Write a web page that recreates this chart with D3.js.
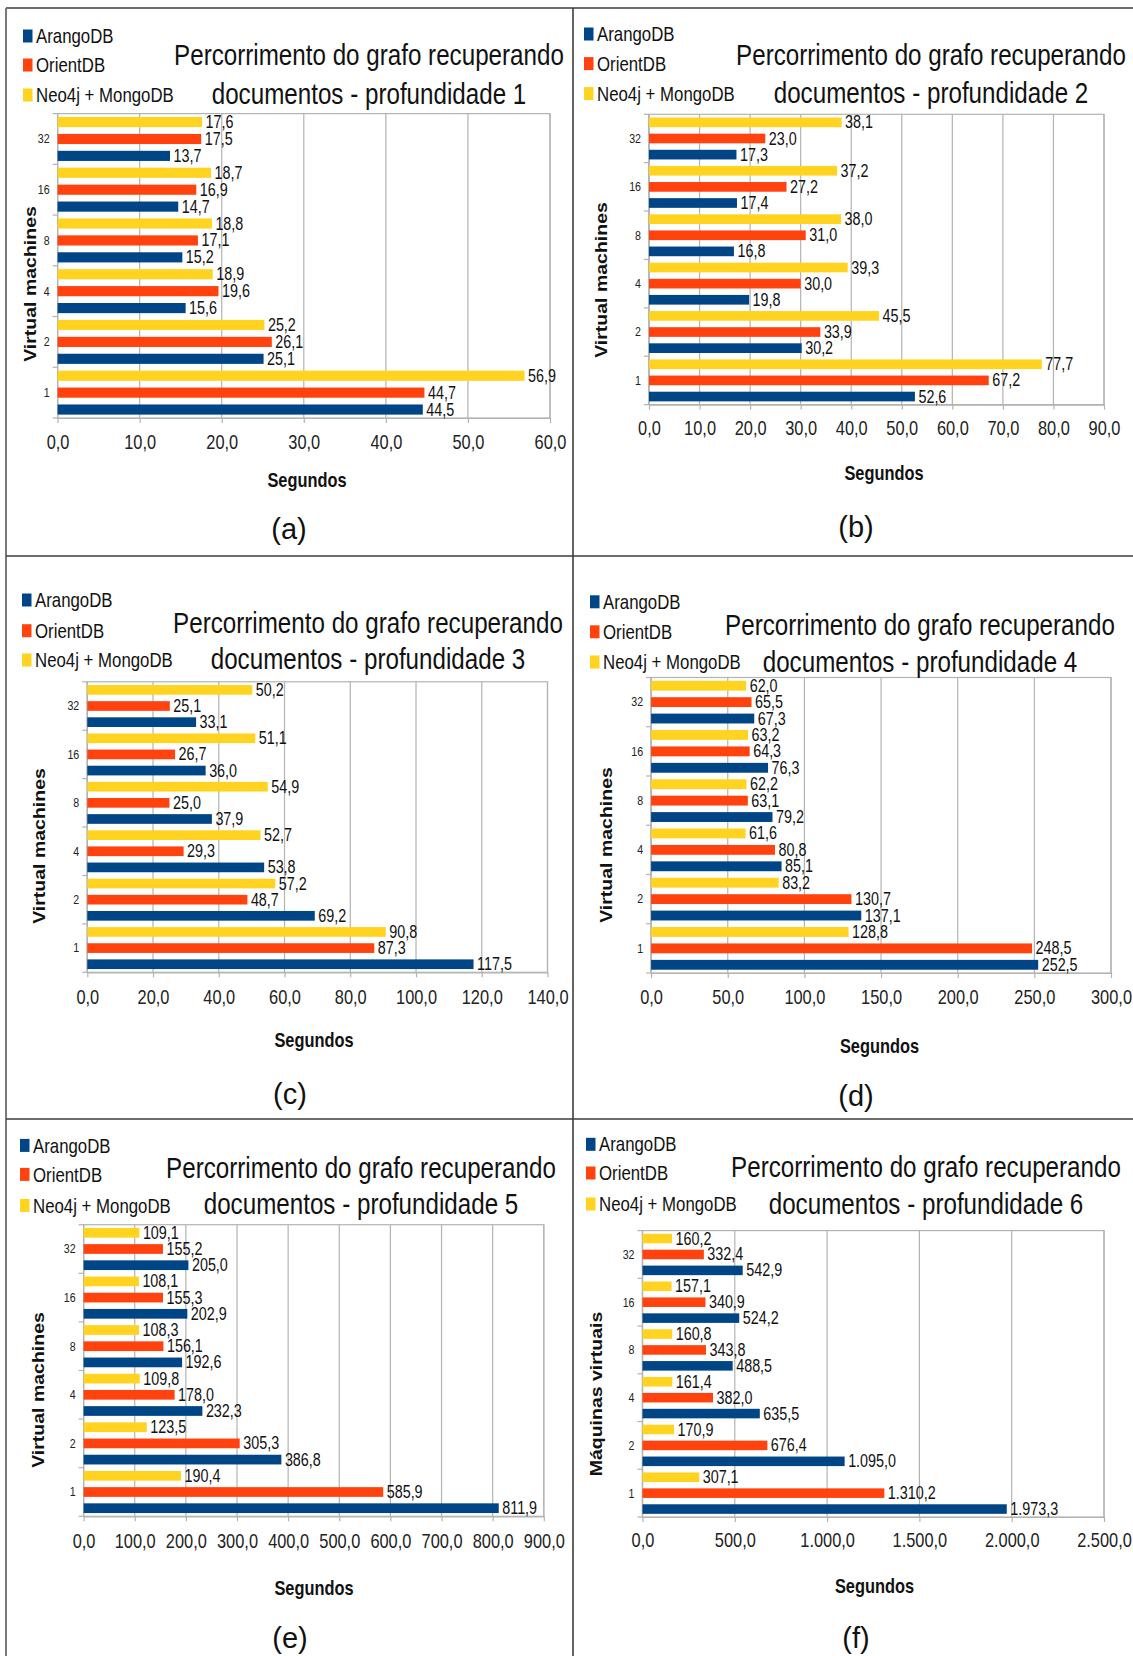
<!DOCTYPE html>
<html>
<head>
<meta charset="utf-8">
<script src="https://cdn.jsdelivr.net/npm/d3@7"></script>
<style>
  html, body { margin: 0; padding: 0; background: #fff; }
  svg { display: block; }
  text { font-family: "Liberation Sans", Arial, sans-serif; }
</style>
</head>
<body>
<svg id="fig" width="1133" height="1656"></svg>
<script>
// ---- data -------------------------------------------------------------
const categories = ["1", "2", "4", "8", "16", "32"];
const seriesNames = ["ArangoDB", "OrientDB", "Neo4j + MongoDB"];
const seriesColors = ["#004586", "#ff420e", "#ffd320"];

// depth 1
const arango1 = [44.5, 25.1, 15.6, 15.2, 14.7, 13.7];
const orient1 = [44.7, 26.1, 19.6, 17.1, 16.9, 17.5];
const neoMongo1 = [56.9, 25.2, 18.9, 18.8, 18.7, 17.6];
const ticks1 = [0, 10, 20, 30, 40, 50, 60];
// depth 2
const arango2 = [52.6, 30.2, 19.8, 16.8, 17.4, 17.3];
const orient2 = [67.2, 33.9, 30.0, 31.0, 27.2, 23.0];
const neoMongo2 = [77.7, 45.5, 39.3, 38.0, 37.2, 38.1];
const ticks2 = [0, 10, 20, 30, 40, 50, 60, 70, 80, 90];
// depth 3
const arango3 = [117.5, 69.2, 53.8, 37.9, 36.0, 33.1];
const orient3 = [87.3, 48.7, 29.3, 25.0, 26.7, 25.1];
const neoMongo3 = [90.8, 57.2, 52.7, 54.9, 51.1, 50.2];
const ticks3 = [0, 20, 40, 60, 80, 100, 120, 140];
// depth 4
const arango4 = [252.5, 137.1, 85.1, 79.2, 76.3, 67.3];
const orient4 = [248.5, 130.7, 80.8, 63.1, 64.3, 65.5];
const neoMongo4 = [128.8, 83.2, 61.6, 62.2, 63.2, 62.0];
const ticks4 = [0, 50, 100, 150, 200, 250, 300];
// depth 5
const arango5 = [811.9, 386.8, 232.3, 192.6, 202.9, 205.0];
const orient5 = [585.9, 305.3, 178.0, 156.1, 155.3, 155.2];
const neoMongo5 = [190.4, 123.5, 109.8, 108.3, 108.1, 109.1];
const ticks5 = [0, 100, 200, 300, 400, 500, 600, 700, 800, 900];
// depth 6
const arango6 = [1973.3, 1095.0, 635.5, 488.5, 524.2, 542.9];
const orient6 = [1310.2, 676.4, 382.0, 343.8, 340.9, 332.4];
const neoMongo6 = [307.1, 170.9, 161.4, 160.8, 157.1, 160.2];
const ticks6 = [0, 500, 1000, 1500, 2000, 2500];

const titleLine1 = "Percorrimento do grafo recuperando";
const depthTitles = ["documentos - profundidade 1", "documentos - profundidade 2",
  "documentos - profundidade 3", "documentos - profundidade 4",
  "documentos - profundidade 5", "documentos - profundidade 6"];
const yTitles = ["Virtual machines", "Virtual machines", "Virtual machines",
  "Virtual machines", "Virtual machines", "Máquinas virtuais"];
const xTitle = "Segundos";
const captions = ["(a)", "(b)", "(c)", "(d)", "(e)", "(f)"];

// ---- layout of the six panels ------------------------------------------
const layouts = [
  { l: 57.6, r: 550, t: 113.6, b: 418, tickY: 442, segX: 307, segY: 480, capX: 289, capY: 529,
    titleX: 369, t1: 55, t2: 94, legX: 23, legY: [36, 65, 95], yLabX: 31, yLabY: 284 },
  { l: 649, r: 1104, t: 114.3, b: 404.6, tickY: 427.5, segX: 884, segY: 473, capX: 856, capY: 527,
    titleX: 931, t1: 55.4, t2: 93, legX: 584, legY: [34, 63.6, 93.6], yLabX: 602, yLabY: 280 },
  { l: 87.3, r: 547.5, t: 681.8, b: 972.3, tickY: 996.4, segX: 314, segY: 1040, capX: 290, capY: 1094,
    titleX: 368, t1: 623.5, t2: 659.5, legX: 22, legY: [600, 630.7, 660], yLabX: 40, yLabY: 846 },
  { l: 651.1, r: 1111, t: 677.5, b: 973, tickY: 996.4, segX: 879.5, segY: 1046, capX: 856, capY: 1095.5,
    titleX: 920, t1: 625.3, t2: 662.4, legX: 590, legY: [601.8, 631.8, 662], yLabX: 607, yLabY: 845 },
  { l: 83.6, r: 543.8, t: 1224.7, b: 1516.3, tickY: 1541, segX: 314, segY: 1588, capX: 290, capY: 1638,
    titleX: 361, t1: 1168.5, t2: 1204, legX: 20, legY: [1145.4, 1174.4, 1205.4], yLabX: 38.5, yLabY: 1390 },
  { l: 642.5, r: 1104, t: 1230.6, b: 1517, tickY: 1540, segX: 874.5, segY: 1586, capX: 856, capY: 1638,
    titleX: 926, t1: 1167, t2: 1204, legX: 586, legY: [1144.3, 1173, 1204], yLabX: 597, yLabY: 1394 }
];

const panelData = [
  [arango1, orient1, neoMongo1, ticks1],
  [arango2, orient2, neoMongo2, ticks2],
  [arango3, orient3, neoMongo3, ticks3],
  [arango4, orient4, neoMongo4, ticks4],
  [arango5, orient5, neoMongo5, ticks5],
  [arango6, orient6, neoMongo6, ticks6]
];

const ptBR = d3.formatLocale({ decimal: ",", thousands: ".", grouping: [3], currency: ["", ""] });
const fmt = ptBR.format(",.1f");

// chart texts are set in a condensed face: horizontal squeeze of the regular face
const NARROW = 0.82;
const place = (x, y) => `translate(${x},${y}) scale(${NARROW},1)`;

const svg = d3.select("#fig");

// ---- panel frame lines ---------------------------------------------------
const frame = svg.append("g").attr("stroke", "#3d3d3d").attr("stroke-width", 1.6).attr("fill", "none");
frame.append("line").attr("x1", 6).attr("x2", 1133).attr("y1", 8).attr("y2", 8);
frame.append("line").attr("x1", 6).attr("x2", 6).attr("y1", 8).attr("y2", 1656).attr("stroke", "#7a7a7a").attr("stroke-width", 2);
frame.append("line").attr("x1", 573).attr("x2", 573).attr("y1", 8).attr("y2", 1656);
frame.append("line").attr("x1", 6).attr("x2", 1133).attr("y1", 556).attr("y2", 556);
frame.append("line").attr("x1", 6).attr("x2", 1133).attr("y1", 1119).attr("y2", 1119);

// ---- one chart per depth --------------------------------------------------
layouts.forEach((L, i) => {
  const [ar, or, nm, ticks] = panelData[i];
  const rows = categories.map((c, k) => ({
    cat: c,
    vals: [
      { s: seriesNames[2], v: nm[k], c: seriesColors[2] },
      { s: seriesNames[1], v: or[k], c: seriesColors[1] },
      { s: seriesNames[0], v: ar[k], c: seriesColors[0] }
    ]
  }));

  const g = svg.append("g");
  const x = d3.scaleLinear().domain([0, d3.max(ticks)]).range([L.l, L.r]);
  const y = d3.scaleBand().domain(categories.slice().reverse()).range([L.t, L.b]).padding(0);
  const yIn = d3.scaleBand().domain([seriesNames[2], seriesNames[1], seriesNames[0]])
    .range([0, y.bandwidth()]).paddingInner(0.4).paddingOuter(0.2);

  // plot wall border
  g.append("rect").attr("x", L.l).attr("y", L.t).attr("width", L.r - L.l).attr("height", L.b - L.t)
    .attr("fill", "none").attr("stroke", "#b3b3b3").attr("stroke-width", 1.2);

  // vertical grid lines
  g.append("g").selectAll("line").data(ticks).join("line")
    .attr("x1", d => x(d)).attr("x2", d => x(d)).attr("y1", L.t).attr("y2", L.b)
    .attr("stroke", "#b3b3b3").attr("stroke-width", 1.2);

  // x axis: ticks and labels
  const xAxis = d3.axisBottom(x).tickValues(ticks).tickSize(5).tickSizeOuter(0).tickFormat(fmt);
  const xa = g.append("g").attr("transform", `translate(0,${L.b})`).call(xAxis);
  xa.select(".domain").attr("stroke", "#b3b3b3").attr("stroke-width", 1.2);
  xa.selectAll(".tick line").attr("stroke", "#b3b3b3").attr("stroke-width", 1.2);
  xa.selectAll(".tick text").attr("y", null).attr("dy", null)
    .attr("transform", place(0, L.tickY - L.b))
    .attr("dominant-baseline", "central")
    .attr("font-family", "Liberation Sans, Arial, sans-serif")
    .attr("font-size", 20).attr("fill", "#222");

  // y axis: category labels and group separators
  const sepYs = d3.range(categories.length + 1).map(k => L.t + k * y.step());
  g.append("g").selectAll("line").data(sepYs).join("line")
    .attr("x1", L.l - 5).attr("x2", L.l).attr("y1", d => d).attr("y2", d => d)
    .attr("stroke", "#b3b3b3").attr("stroke-width", 1.2);
  g.append("line").attr("x1", L.l).attr("x2", L.l).attr("y1", L.t).attr("y2", L.b)
    .attr("stroke", "#b3b3b3").attr("stroke-width", 1.2);
  g.append("g").selectAll("text").data(categories).join("text")
    .attr("transform", d => place(L.l - 8, y(d) + y.bandwidth() / 2))
    .attr("text-anchor", "end").attr("dominant-baseline", "central")
    .attr("font-size", 13).attr("fill", "#222").text(d => d);

  // bars and value labels
  const grp = g.append("g").selectAll("g").data(rows).join("g")
    .attr("transform", d => `translate(0,${y(d.cat)})`);
  grp.selectAll("rect").data(d => d.vals).join("rect")
    .attr("x", x(0)).attr("y", d => yIn(d.s))
    .attr("width", d => x(d.v) - x(0)).attr("height", yIn.bandwidth())
    .attr("fill", d => d.c);
  grp.selectAll("text").data(d => d.vals).join("text")
    .attr("transform", d => place(x(d.v) + 3.5, yIn(d.s) + yIn.bandwidth() / 2))
    .attr("dominant-baseline", "central").attr("font-size", 17.5).attr("fill", "#111")
    .text(d => fmt(d.v));

  // legend
  const leg = g.append("g").selectAll("g").data([0, 1, 2]).join("g")
    .attr("transform", k => `translate(${L.legX},${L.legY[k]})`);
  leg.append("rect").attr("x", 0).attr("y", -6.5).attr("width", 9.5).attr("height", 13)
    .attr("fill", k => seriesColors[k]);
  leg.append("text").attr("transform", place(13, 0)).attr("dominant-baseline", "central")
    .attr("font-size", 20.5).attr("fill", "#111").text(k => seriesNames[k]);

  // chart title
  g.append("text").attr("transform", place(L.titleX, L.t1)).attr("text-anchor", "middle")
    .attr("dominant-baseline", "central").attr("font-size", 29.5).attr("fill", "#111").text(titleLine1);
  g.append("text").attr("transform", place(L.titleX, L.t2)).attr("text-anchor", "middle")
    .attr("dominant-baseline", "central").attr("font-size", 29.5).attr("fill", "#111").text(depthTitles[i]);

  // axis titles
  g.append("text").attr("transform", place(L.segX, L.segY)).attr("text-anchor", "middle")
    .attr("dominant-baseline", "central").attr("font-size", 20).attr("font-weight", "bold")
    .attr("fill", "#111").text(xTitle);
  g.append("text")
    .attr("transform", `translate(${L.yLabX},${L.yLabY}) rotate(-90) scale(1,${NARROW})`)
    .attr("text-anchor", "middle").attr("dominant-baseline", "central")
    .attr("font-size", 19.5).attr("font-weight", "bold").attr("fill", "#111").text(yTitles[i]);

  // panel caption
  g.append("text").attr("x", L.capX).attr("y", L.capY).attr("text-anchor", "middle")
    .attr("dominant-baseline", "central")
    .attr("font-size", 29).attr("fill", "#111").text(captions[i]);
});
</script>
</body>
</html>
